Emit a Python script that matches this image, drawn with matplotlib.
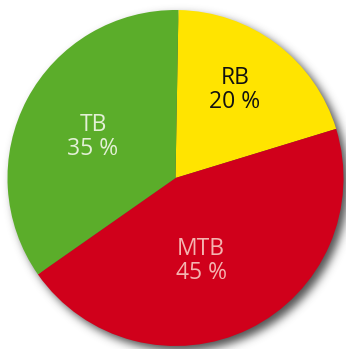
import matplotlib
matplotlib.use("Agg")
import matplotlib.pyplot as plt
import numpy as np
from math import erf

labels = ["RB", "MTB", "TB"]
shares = [20, 45, 35]
colors = ["#FFE400", "#D0001B", "#5BAD2A"]
text_colors = ["#111111", "#F4B4B0", "#E3F0D6"]

W, H = 346, 349
cx, cy, R = 175.5, 171.0, 168.0

fig = plt.figure(figsize=(W / 100, H / 100), dpi=100)
ax = fig.add_axes([0, 0, 1, 1])

# soft drop shadow to the lower right
yy, xx = np.mgrid[0:H, 0:W] + 0.5
d = np.hypot(xx - (cx + 5), yy - (cy - 5))
verf = np.vectorize(erf)
alpha = 0.85 * 0.5 * (1 - verf((d - R) / (4.5 * np.sqrt(2))))
shadow = np.zeros((H, W, 4))
shadow[..., :3] = 0.2
shadow[..., 3] = alpha
ax.imshow(shadow, extent=(0, W, 0, H), origin="lower", zorder=0)

wedges, _ = ax.pie(shares, colors=colors, startangle=89, counterclock=False,
                   center=(cx, cy), radius=R, frame=True,
                   wedgeprops=dict(linewidth=0))
ax.set_xlim(0, W)
ax.set_ylim(0, H)
ax.set_aspect("equal")
ax.axis("off")

# label centres in pixel coordinates (y up)
label_xy = [(235, 259), (201, 88), (93, 212)]
for lab, val, tc, (x, y) in zip(labels, shares, text_colors, label_xy):
    ax.text(x, y, f"{lab}\n{val} %", ha="center", va="center",
            color=tc, fontsize=16.5, family="Open Sans", linespacing=1.0,
            zorder=5)

fig.savefig("out.png", dpi=100)
